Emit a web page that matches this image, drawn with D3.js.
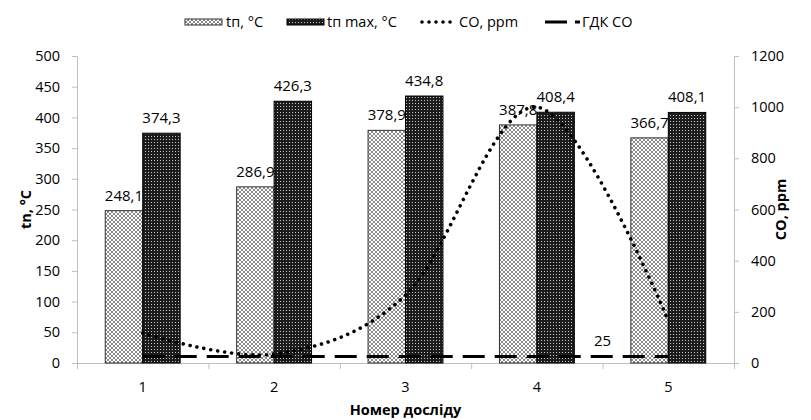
<!DOCTYPE html>
<html><head><meta charset="utf-8">
<script src="https://cdn.jsdelivr.net/npm/d3@7"></script>
<style>body{margin:0;background:#fff} text{font-family:"Open Sans",sans-serif;fill:#000}</style>
</head><body><svg id="c" width="811" height="420"></svg>
<script>
const categories = ["1", "2", "3", "4", "5"];
const tnValues = [248.1, 286.9, 378.9, 387.8, 366.7];
const tnMaxValues = [374.3, 426.3, 434.8, 408.4, 408.1];
const coValues = [117, 35, 265, 1000, 165];
const gdkValues = [25, 25, 25, 25, 25];
const leftTicks = [0, 50, 100, 150, 200, 250, 300, 350, 400, 450, 500];
const rightTicks = [0, 200, 400, 600, 800, 1000, 1200];
const seriesNames = ["tп, °C", "tп max, °C", "CO, ppm", "ГДК СО"];
const leftTitle = "tn, °C";
const rightTitle = "CO, ppm";
const xTitle = "Номер досліду";

const svg = d3.select("#c");
const L = 77, R = 734, T = 56, B = 363;
const x = d3.scaleBand().domain(categories).range([L, R]);
const yL = d3.scaleLinear().domain([0, 500]).range([B, T]);
const yR = d3.scaleLinear().domain([0, 1200]).range([B, T]);
const bw = x.bandwidth() * 0.285;
const cx = d => x(d) + x.bandwidth() / 2;
const fmt = v => d3.format(".1f")(v).replace(".", ",");

const defs = svg.append("defs");
const p1 = defs.append("pattern").attr("id", "pTn").attr("patternUnits", "userSpaceOnUse")
  .attr("width", 4).attr("height", 4);
p1.append("rect").attr("width", 4).attr("height", 4).attr("fill", "#fff");
[[0,0],[1,1],[2,2],[3,3],[3,0],[2,1],[1,2],[0,3]].forEach(([a,b]) =>
  p1.append("rect").attr("x", a).attr("y", b).attr("width", 1).attr("height", 1).attr("fill", "#8a8a8a"));
const p2 = defs.append("pattern").attr("id", "pMax").attr("patternUnits", "userSpaceOnUse")
  .attr("width", 3).attr("height", 3);
p2.append("rect").attr("width", 3).attr("height", 3).attr("fill", "#1c1c1c");
p2.append("rect").attr("x", 1).attr("y", 1).attr("width", 1).attr("height", 1).attr("fill", "#c8c8c8");

// axes
const axisColor = "#bfbfbf";
const gl = svg.append("g").attr("transform", `translate(${L},0)`)
  .call(d3.axisLeft(yL).tickValues(leftTicks).tickFormat(d3.format("d")).tickSize(5).tickPadding(12));
const gr = svg.append("g").attr("transform", `translate(${R},0)`)
  .call(d3.axisRight(yR).tickValues(rightTicks).tickFormat(d3.format("d")).tickSize(5).tickPadding(12));
const gx = svg.append("g").attr("transform", `translate(0,${B})`)
  .call(d3.axisBottom(x).tickSize(0).tickPadding(19));
[gl, gr, gx].forEach(g => {
  g.select(".domain").attr("stroke", axisColor);
  g.selectAll(".tick line").attr("stroke", axisColor);
  g.selectAll("text").style("font-family", '"Open Sans",sans-serif').style("font-size", "14.5px").attr("fill", "#000");
});
gx.selectAll(".domain").remove();
svg.append("line").attr("x1", L).attr("x2", R).attr("y1", B + 0.5).attr("y2", B + 0.5).attr("stroke", axisColor);
const bounds = categories.map(c => x(c)).concat([R]);
svg.append("g").selectAll("line").data(bounds).join("line")
  .attr("x1", d => d + 0.5).attr("x2", d => d + 0.5).attr("y1", B).attr("y2", B + 6).attr("stroke", axisColor);

const lblStyle = s => s.style("font-size", "15px").attr("text-anchor", "middle");

// tn bars + labels (drawn under the max bars, as in the original)
svg.append("g").selectAll("rect").data(categories).join("rect")
  .attr("x", (d, i) => cx(d) - bw).attr("y", (d, i) => yL(tnValues[i]))
  .attr("width", bw).attr("height", (d, i) => B - yL(tnValues[i]))
  .attr("fill", "url(#pTn)").attr("stroke", "#333").attr("stroke-width", 1);
svg.append("g").selectAll("text").data(categories).join("text")
  .attr("x", d => cx(d) - bw / 2).attr("y", (d, i) => yL(tnValues[i]) - 10)
  .text((d, i) => fmt(tnValues[i])).call(lblStyle);

// tn max bars + labels
svg.append("g").selectAll("rect").data(categories).join("rect")
  .attr("x", (d, i) => cx(d)).attr("y", (d, i) => yL(tnMaxValues[i]))
  .attr("width", bw).attr("height", (d, i) => B - yL(tnMaxValues[i]))
  .attr("fill", "url(#pMax)").attr("stroke", "#000").attr("stroke-width", 1);
svg.append("g").selectAll("text").data(categories).join("text")
  .attr("x", d => cx(d) + bw / 2).attr("y", (d, i) => yL(tnMaxValues[i]) - 10)
  .text((d, i) => fmt(tnMaxValues[i])).call(lblStyle);

// GDK line
const lineG = d3.line().x((d, i) => cx(categories[i])).y(d => yR(d));
svg.append("path").attr("d", lineG(gdkValues)).attr("fill", "none")
  .attr("stroke", "#000").attr("stroke-width", 3).attr("stroke-dasharray", "22,10");
svg.append("text").attr("x", (cx(categories[3]) + cx(categories[4])) / 2).attr("y", yR(gdkValues[4]) - 11)
  .text(String(gdkValues[4])).call(lblStyle);

// CO line
const lineC = d3.line().x((d, i) => cx(categories[i])).y(d => yR(d)).curve(d3.curveCardinal.tension(0));
svg.append("path").attr("d", lineC(coValues)).attr("fill", "none")
  .attr("stroke", "#000").attr("stroke-width", 3.6).attr("stroke-linecap", "round").attr("stroke-dasharray", "0.01,7");

// titles
const titleSize = "14.5px";
svg.append("text").attr("transform", `translate(31,${(T + B) / 2}) rotate(-90)`)
  .attr("text-anchor", "middle").style("font-size", titleSize).style("font-weight", "bold").text(leftTitle);
svg.append("text").attr("transform", `translate(786,${(T + B) / 2}) rotate(-90)`)
  .attr("text-anchor", "middle").style("font-size", titleSize).style("font-weight", "bold").text(rightTitle);
svg.append("text").attr("x", (L + R) / 2).attr("y", 415)
  .attr("text-anchor", "middle").style("font-size", titleSize).style("font-weight", "bold").text(xTitle);

// legend
const lg = svg.append("g");
const ly = 22;
lg.append("rect").attr("x", 185).attr("y", ly - 3).attr("width", 37).attr("height", 6).attr("fill", "url(#pTn)").attr("stroke", "#333");
lg.append("rect").attr("x", 287).attr("y", ly - 3).attr("width", 37).attr("height", 6).attr("fill", "url(#pMax)").attr("stroke", "#000");
lg.append("line").attr("x1", 422).attr("x2", 456).attr("y1", ly).attr("y2", ly).attr("stroke", "#000")
  .attr("stroke-width", 3.6).attr("stroke-linecap", "round").attr("stroke-dasharray", "0.01,7");
lg.append("line").attr("x1", 545).attr("x2", 580).attr("y1", ly).attr("y2", ly).attr("stroke", "#000")
  .attr("stroke-width", 3).attr("stroke-dasharray", "22,8");
const lx = [226, 327, 459, 582];
lg.selectAll("text").data(seriesNames).join("text")
  .attr("x", (d, i) => lx[i]).attr("y", ly + 5).style("font-size", "14.5px").text(d => d);
</script></body></html>
